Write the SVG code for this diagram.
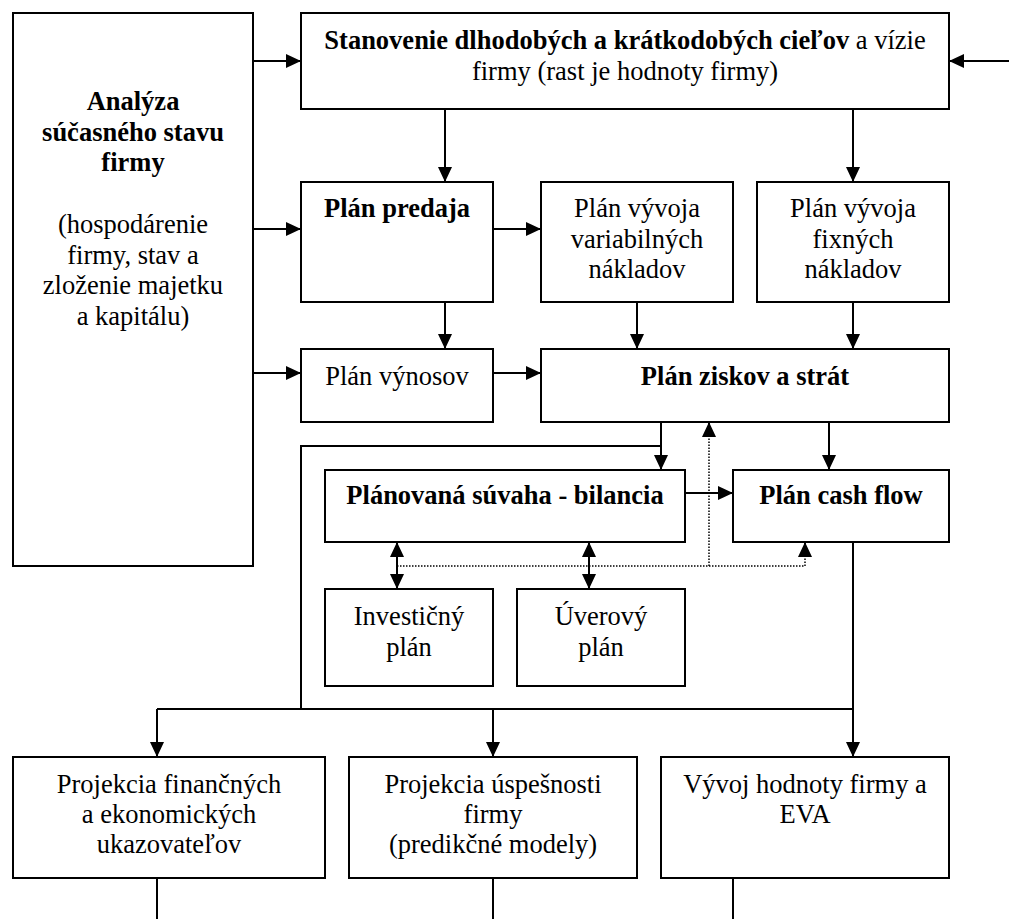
<svg xmlns="http://www.w3.org/2000/svg" width="1009" height="919" viewBox="0 0 1009 919">
<style>
.box{fill:#fff;stroke:#000;stroke-width:2}
.t{font-family:"Liberation Serif","Times New Roman",serif;font-size:26.5px;fill:#000;text-anchor:middle}
.b{font-weight:bold}
.ln{fill:none;stroke:#000;stroke-width:2}
.dot{fill:none;stroke:#000;stroke-width:1.5;stroke-dasharray:1.5 1.5}
</style>
<defs>
<marker id="ah" markerUnits="userSpaceOnUse" markerWidth="15" markerHeight="14" refX="15" refY="7" orient="auto">
<path d="M0,0 L15,7 L0,14 z" fill="#000"/>
</marker>
<marker id="as" markerUnits="userSpaceOnUse" markerWidth="15" markerHeight="14" refX="0" refY="7" orient="auto">
<path d="M15,0 L0,7 L15,14 z" fill="#000"/>
</marker>
</defs>
<rect width="1009" height="919" fill="#fff"/>
<g id="connectors">
<line class="ln" x1="253" y1="61" x2="301" y2="61" marker-end="url(#ah)"/>
<line class="ln" x1="253" y1="229" x2="301" y2="229" marker-end="url(#ah)"/>
<line class="ln" x1="253" y1="373" x2="301" y2="373" marker-end="url(#ah)"/>
<line class="ln" x1="1009" y1="61" x2="949" y2="61" marker-end="url(#ah)"/>
<line class="ln" x1="445" y1="109" x2="445" y2="182" marker-end="url(#ah)"/>
<line class="ln" x1="853" y1="109" x2="853" y2="182" marker-end="url(#ah)"/>
<line class="ln" x1="493" y1="229" x2="541" y2="229" marker-end="url(#ah)"/>
<line class="ln" x1="445" y1="302" x2="445" y2="349" marker-end="url(#ah)"/>
<line class="ln" x1="637" y1="302" x2="637" y2="349" marker-end="url(#ah)"/>
<line class="ln" x1="853" y1="302" x2="853" y2="349" marker-end="url(#ah)"/>
<line class="ln" x1="493" y1="373" x2="541" y2="373" marker-end="url(#ah)"/>
<line class="ln" x1="661" y1="422" x2="661" y2="470" marker-end="url(#ah)"/>
<line class="ln" x1="829" y1="422" x2="829" y2="470" marker-end="url(#ah)"/>
<line class="ln" x1="685" y1="493" x2="733" y2="493" marker-end="url(#ah)"/>
<polyline class="ln" points="661,446 301,446 301,709"/>
<line class="ln" x1="157" y1="709" x2="853" y2="709"/>
<line class="ln" x1="853" y1="542" x2="853" y2="757" marker-end="url(#ah)"/>
<line class="ln" x1="157" y1="709" x2="157" y2="757" marker-end="url(#ah)"/>
<line class="ln" x1="493" y1="709" x2="493" y2="757" marker-end="url(#ah)"/>
<line class="ln" x1="397" y1="542" x2="397" y2="589" marker-start="url(#as)" marker-end="url(#ah)"/>
<line class="ln" x1="589" y1="542" x2="589" y2="589" marker-start="url(#as)" marker-end="url(#ah)"/>
<polyline class="dot" points="397,566 805,566 805,556"/>
<line class="dot" x1="709" y1="566" x2="709" y2="436"/>
<line class="ln" x1="805" y1="557" x2="805" y2="542" marker-end="url(#ah)" stroke-width="0.1"/>
<line class="ln" x1="709" y1="437" x2="709" y2="422" marker-end="url(#ah)" stroke-width="0.1"/>
<line class="ln" x1="157" y1="878" x2="157" y2="919"/>
<line class="ln" x1="493" y1="878" x2="493" y2="919"/>
<line class="ln" x1="733" y1="878" x2="733" y2="919"/>
</g>
<g id="analyza">
<rect class="box" x="13" y="13" width="240" height="553"/>
<text class="t b" x="133" y="110">Analýza</text>
<text class="t b" x="133" y="141">súčasného stavu</text>
<text class="t b" x="133" y="171">firmy</text>
<text class="t" x="133" y="233">(hospodárenie</text>
<text class="t" x="133" y="264">firmy, stav a</text>
<text class="t" x="133" y="294">zloženie majetku</text>
<text class="t" x="133" y="325">a kapitálu)</text>
</g>
<g id="stanovenie">
<rect class="box" x="301" y="13" width="648" height="96"/>
<text class="t" x="625" y="49"><tspan class="b">Stanovenie dlhodobých a krátkodobých cieľov</tspan> a vízie</text>
<text class="t" x="625" y="80">firmy (rast je hodnoty firmy)</text>
</g>
<g id="predaj">
<rect class="box" x="301" y="182" width="192" height="120"/>
<text class="t b" x="397" y="217">Plán predaja</text>
</g>
<g id="variabilne">
<rect class="box" x="541" y="182" width="192" height="120"/>
<text class="t" x="637" y="217">Plán vývoja</text>
<text class="t" x="637" y="248">variabilných</text>
<text class="t" x="637" y="278">nákladov</text>
</g>
<g id="fixne">
<rect class="box" x="757" y="182" width="192" height="120"/>
<text class="t" x="853" y="217">Plán vývoja</text>
<text class="t" x="853" y="248">fixných</text>
<text class="t" x="853" y="278">nákladov</text>
</g>
<g id="vynosy">
<rect class="box" x="301" y="349" width="192" height="73"/>
<text class="t" x="397" y="385">Plán výnosov</text>
</g>
<g id="zisky">
<rect class="box" x="541" y="349" width="408" height="73"/>
<text class="t b" x="745" y="385">Plán ziskov a strát</text>
</g>
<g id="suvaha">
<rect class="box" x="325" y="470" width="360" height="72"/>
<text class="t b" x="505" y="504">Plánovaná súvaha - bilancia</text>
</g>
<g id="cashflow">
<rect class="box" x="733" y="470" width="216" height="72"/>
<text class="t b" x="841" y="504">Plán cash flow</text>
</g>
<g id="investicny">
<rect class="box" x="325" y="589" width="168" height="97"/>
<text class="t" x="409" y="625">Investičný</text>
<text class="t" x="409" y="656">plán</text>
</g>
<g id="uverovy">
<rect class="box" x="517" y="589" width="168" height="97"/>
<text class="t" x="601" y="625">Úverový</text>
<text class="t" x="601" y="656">plán</text>
</g>
<g id="projekcia-fin">
<rect class="box" x="13" y="757" width="312" height="121"/>
<text class="t" x="169" y="793">Projekcia finančných</text>
<text class="t" x="169" y="823">a ekonomických</text>
<text class="t" x="169" y="853">ukazovateľov</text>
</g>
<g id="projekcia-usp">
<rect class="box" x="349" y="757" width="288" height="121"/>
<text class="t" x="493" y="793">Projekcia úspešnosti</text>
<text class="t" x="493" y="823">firmy</text>
<text class="t" x="493" y="853">(predikčné modely)</text>
</g>
<g id="hodnota">
<rect class="box" x="661" y="757" width="288" height="121"/>
<text class="t" x="805" y="793">Vývoj hodnoty firmy a</text>
<text class="t" x="805" y="823">EVA</text>
</g>
</svg>
